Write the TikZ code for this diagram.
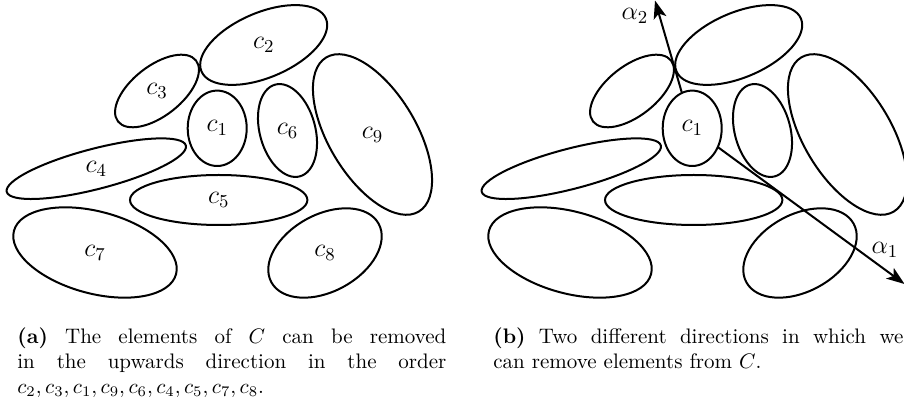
\RequirePackage{fix-cm}
\documentclass[tikz,border=0pt]{standalone}
\usetikzlibrary{shapes.geometric,arrows.meta}
\begin{document}
\begin{tikzpicture}[x=0.5pt,y=0.5pt,
  blob/.style 2 args={draw, ellipse, line width=1pt, inner sep=0pt, outer sep=0pt, minimum width=#1, minimum height=#2},
  lab/.style={inner sep=0pt, font=\fontsize{13}{15}\selectfont},
  arr/.style={line width=1pt, -{Stealth[length=9pt,width=6.5pt,inset=2.2pt]}},
  captext/.style={anchor=north west, align=justify, inner sep=0pt, font=\fontsize{10.5}{12.5}\selectfont}]
\useasboundingbox (0,0) rectangle (904,401);
\clip (0,0) rectangle (904,401);
% ---------- (a) ----------
\node[blob={29.5pt}{37.7pt}] (e1) at (217.2,272.7) {};
\node[blob={67.6pt}{32.5pt}, rotate=23] (e2) at (263.7,356) {};
\node[blob={49.5pt}{25pt}, rotate=38] (e3) at (157,310) {};
\node[blob={92.5pt}{20.2pt}, rotate=14.5] (e4) at (96.3,232.3) {};
\node[blob={88.7pt}{25pt}] (e5) at (218.7,201) {};
\node[blob={27.8pt}{47.5pt}, rotate=15] (e6) at (287.5,270.5) {};
\node[blob={83.9pt}{41pt}, rotate=-15] (e7) at (95,148.5) {};
\node[blob={61.1pt}{38.5pt}, rotate=28.6] (e8) at (325,148) {};
\node[blob={43.7pt}{89.9pt}, rotate=31] (e9) at (372.5,266.5) {};
\node[lab] (l1) at (e1) {$c_1$};
\node[lab] (l2) at (e2) {$c_2$};
\node[lab] (l3) at (e3) {$c_3$};
\node[lab] (l4) at (e4) {$c_4$};
\node[lab] (l5) at (e5) {$c_5$};
\node[lab] (l6) at (e6) {$c_6$};
\node[lab] (l7) at (e7) {$c_7$};
\node[lab] (l8) at (e8) {$c_8$};
\node[lab] (l9) at (e9) {$c_9$};
% ---------- (b) ----------
\begin{scope}[xshift=237.5pt]
\node[blob={29.5pt}{37.7pt}] (r1) at (217.2,272.7) {};
\node[blob={67.6pt}{32.5pt}, rotate=23] (r2) at (263.7,356) {};
\node[blob={49.5pt}{25pt}, rotate=38] (r3) at (157,310) {};
\node[blob={92.5pt}{20.2pt}, rotate=14.5] (r4) at (96.3,232.3) {};
\node[blob={88.7pt}{25pt}] (r5) at (218.7,201) {};
\node[blob={27.8pt}{47.5pt}, rotate=15] (r6) at (287.5,270.5) {};
\node[blob={83.9pt}{41pt}, rotate=-15] (r7) at (95,148.5) {};
\node[blob={61.1pt}{38.5pt}, rotate=28.6] (r8) at (325,148) {};
\node[blob={43.7pt}{89.9pt}, rotate=31] (r9) at (372.5,266.5) {};
\node[lab] (m1) at (r1) {$c_1$};
\coordinate (t2) at (180,400.5);
\coordinate (t1) at (429.5,117);
\draw[arr] (r1) -- (t2);
\draw[arr] (r1) -- (t1);
\node[lab] (a2) at (160,385) {$\alpha_2$};
\node[lab] (a1) at (410,151) {$\alpha_1$};
\end{scope}
% ---------- captions ----------
\node[captext, text width=214.5pt] (capa) at (17,73.7) {\textbf{(a)} The elements of $C$ can be removed\linebreak in the upwards direction in the order\linebreak $c_2, c_3, c_1, c_9, c_6, c_4, c_5, c_7, c_8$.};
\node[captext, text width=205pt] (capb) at (493,73.7) {\textbf{(b)} Two different directions in which we\linebreak can remove elements from $C$.};
\end{tikzpicture}
\end{document}
